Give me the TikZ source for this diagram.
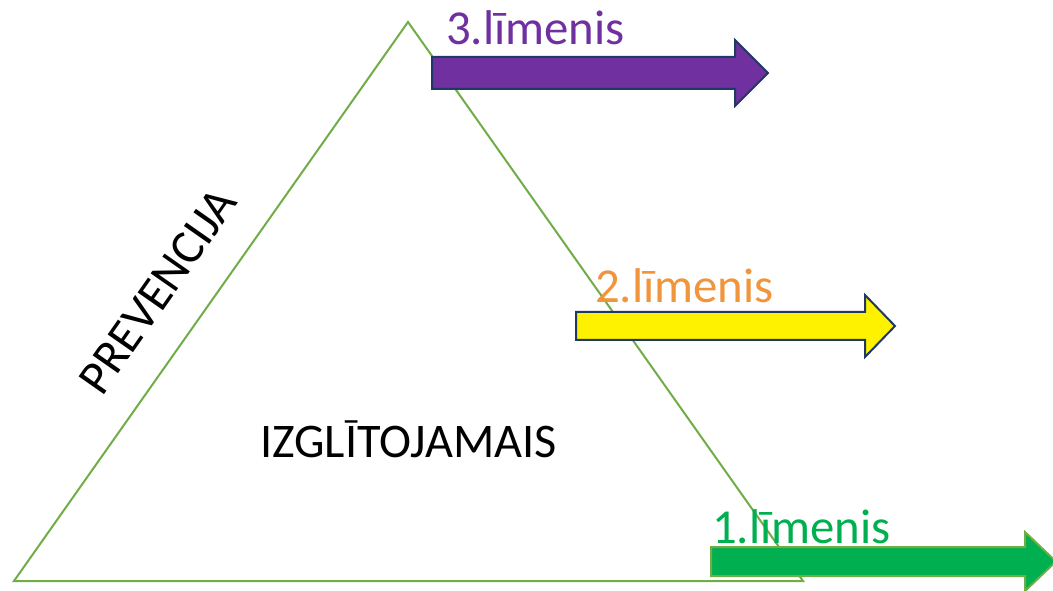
\documentclass[tikz,border=0pt]{standalone}
\usepackage{fontspec}
\setmainfont{Carlito}
\definecolor{trigreen}{HTML}{70AD47}
\definecolor{arrpurple}{HTML}{7030A0}
\definecolor{arrnavy}{HTML}{203864}
\definecolor{arrgreen}{HTML}{00B050}
\definecolor{lblorange}{HTML}{F0953C}
\begin{document}
\begin{tikzpicture}[x=1pt,y=1pt,
  tri/.style={draw=trigreen,line width=2pt,line join=miter},
  arrowshape/.style={line width=2pt,line join=miter},
  lbl/.style={font=\fontsize{48.8}{58}\selectfont,inner sep=0pt,anchor=base west},
  bigtxt/.style={font=\fontsize{48.3}{58}\selectfont,inner sep=0pt}]
\useasboundingbox (0,0) rectangle (1053,590);
% triangle
\coordinate (apex) at (408,568);
\coordinate (bl) at (14,9);
\coordinate (br) at (803,9);
\draw[tri] (bl) -- (apex) -- (br) -- cycle;
% arrows
\draw[arrowshape,draw=arrnavy,fill=arrpurple]
  (432,533) -- (735,533) -- (735,550) -- (768,517) -- (735,484) -- (735,501) -- (432,501) -- cycle;
\draw[arrowshape,draw=arrnavy,fill=yellow]
  (576,278) -- (865,278) -- (865,295) -- (895,264) -- (865,233) -- (865,250) -- (576,250) -- cycle;
\draw[arrowshape,draw=trigreen,fill=arrgreen]
  (711,43) -- (1025,43) -- (1025,58) -- (1056,28.5) -- (1025,-1) -- (1025,14) -- (711,14) -- cycle;
% labels
\node[lbl,text=arrpurple] (l3) at (446,545) {3.līmenis};
\node[lbl,text=lblorange] (l2) at (595,287) {2.līmenis};
\node[lbl,text=arrgreen] (l1) at (712,47) {1.līmenis};
\node[bigtxt,anchor=base] (izg) at (408.5,133) {IZGLĪTOJAMAIS};
\node[bigtxt,rotate=55] (prev) at (158,299) {PREVENCIJA};
\end{tikzpicture}
\end{document}
